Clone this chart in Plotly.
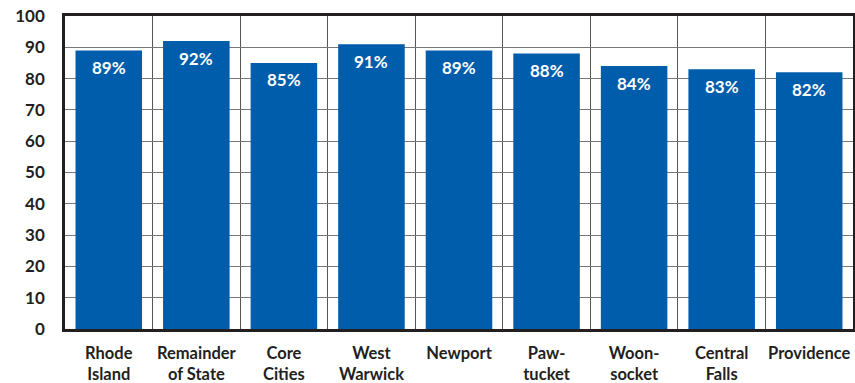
import plotly.graph_objects as go

categories = ["Rhode<br>Island", "Remainder<br>of State", "Core<br>Cities", "West<br>Warwick",
              "Newport", "Paw-<br>tucket", "Woon-<br>socket", "Central<br>Falls", "Providence"]
values = [89, 92, 85, 91, 89, 88, 84, 83, 82]
labels = [f"{v}%" for v in values]
y_ticks = [0, 10, 20, 30, 40, 50, 60, 70, 80, 90, 100]

fig = go.Figure(go.Bar(
    x=categories, y=values,
    marker=dict(color="#005dab", line=dict(width=0)),
    hoverinfo="skip",
))

for c, v, t in zip(categories, values, labels):
    fig.add_annotation(x=c, y=v, text=t, showarrow=False, yanchor="middle", yshift=-17,
                       font=dict(family="Lato", size=17, color="white", weight="bold"))

fig.update_layout(
    width=855, height=383,
    margin=dict(l=65, r=2, t=16, b=54),
    paper_bgcolor="white", plot_bgcolor="white",
    bargap=0.24, showlegend=False,
    font=dict(family="Lato", color="#231f20"),
)
fig.update_xaxes(
    tickson="boundaries", showgrid=True, gridcolor="#555555", gridwidth=1,
    showline=True, linecolor="#231f20", linewidth=2.5, mirror=True,
    ticks="", tickangle=0, tickfont=dict(size=16.5, weight="bold", color="#231f20"),
    ticklabelstandoff=7, automargin=False,
)
fig.update_yaxes(
    range=[0, 100], tickvals=y_ticks, showgrid=True, gridcolor="#777777", gridwidth=1,
    showline=True, linecolor="#231f20", linewidth=2.5, mirror=True,
    ticks="", tickfont=dict(size=17, weight="bold", color="#231f20"),
    ticklabelstandoff=14, zeroline=False, automargin=False,
)

fig.write_html("out.html", config={"displayModeBar": False},
               post_script="document.body.style.margin='0';document.body.style.padding='0';")
